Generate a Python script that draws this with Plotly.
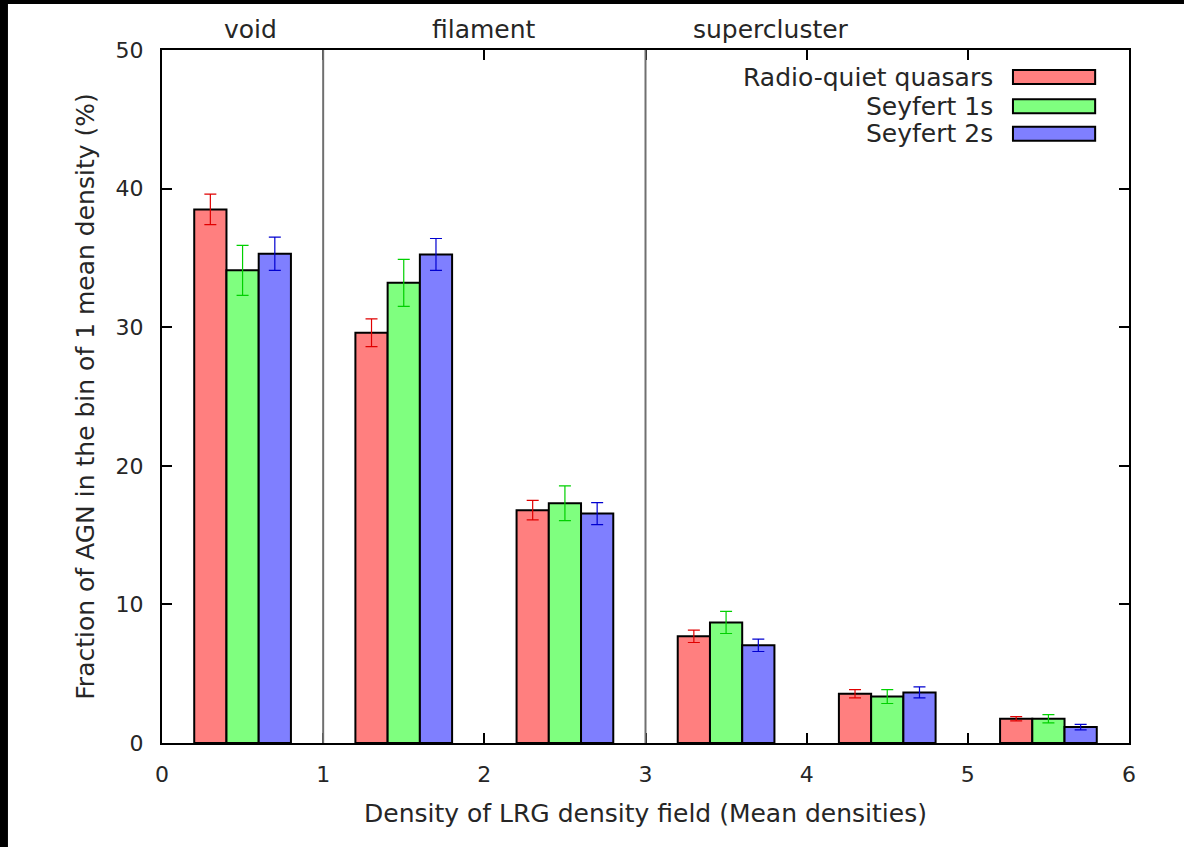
import plotly.graph_objects as go

# ---- data ----
centers = [0.5, 1.5, 2.5, 3.5, 4.5, 5.5]
series_names = ["Radio-quiet quasars", "Seyfert 1s", "Seyfert 2s"]
rq = [38.5, 29.6, 16.8, 7.7, 3.55, 1.75]
rq_err = [1.1, 1.0, 0.7, 0.45, 0.3, 0.15]
sy1 = [34.1, 33.2, 17.3, 8.7, 3.35, 1.75]
sy1_err = [1.8, 1.7, 1.25, 0.8, 0.5, 0.3]
sy2 = [35.3, 35.25, 16.55, 7.05, 3.65, 1.15]
sy2_err = [1.2, 1.15, 0.8, 0.45, 0.4, 0.2]
region_bounds = [1, 3]
region_labels = ["void", "filament", "supercluster"]
region_label_x = [0.55, 2.0, 3.78]
x_ticks = [0, 1, 2, 3, 4, 5, 6]
y_ticks = [0, 10, 20, 30, 40, 50]

fills = ["#ff7f7f", "#7fff7f", "#7f7fff"]
errcols = ["#e00000", "#00d000", "#0000d0"]
vals = [rq, sy1, sy2]
errs = [rq_err, sy1_err, sy2_err]

FONT = "DejaVu Sans, Liberation Sans, sans-serif"
TXT = "#262626"
HSIZE = 25

fig = go.Figure()
for name, v, e, fc, ec in zip(series_names, vals, errs, fills, errcols):
    fig.add_trace(go.Bar(
        x=centers, y=v, name=name, width=0.2,
        marker=dict(color=fc, line=dict(color="black", width=2)),
        error_y=dict(type="data", array=e, visible=True, color=ec,
                     thickness=1.2, width=6),
        showlegend=False,
    ))

# region separator lines
for b in region_bounds:
    fig.add_shape(type="line", xref="x", yref="paper", x0=b, x1=b, y0=0, y1=1,
                  line=dict(color="#707070", width=2), layer="above")

# region labels
for lab, lx in zip(region_labels, region_label_x):
    fig.add_annotation(x=lx, xref="x", y=1.03, yref="paper", text=lab,
                       showarrow=False, font=dict(family=FONT, size=HSIZE, color=TXT),
                       xanchor="center", yanchor="middle")

# custom legend (text left of swatch, gnuplot style)
leg_y = [0.961, 0.919, 0.879]
for name, fc, ly in zip(series_names, fills, leg_y):
    fig.add_annotation(x=0.8614, xref="paper", y=ly, yref="paper", text=name,
                       showarrow=False, font=dict(family=FONT, size=HSIZE, color=TXT),
                       xanchor="right", yanchor="middle")
    fig.add_shape(type="rect", xref="paper", yref="paper",
                  x0=0.880, x1=0.965, y0=ly - 0.0101, y1=ly + 0.0101,
                  fillcolor=fc, line=dict(color="black", width=2))

# black borders of the cropped image
fig.add_shape(type="rect", xref="paper", yref="paper", x0=-0.2, x1=-0.1593,
              y0=-0.3, y1=1.2, fillcolor="black", line=dict(width=0))
fig.add_shape(type="rect", xref="paper", yref="paper", x0=-0.2, x1=1.2,
              y0=1.0664, y1=1.2, fillcolor="black", line=dict(width=0))

axis_common = dict(showline=True, linecolor="black", linewidth=2, mirror="allticks",
                   ticks="inside", ticklen=10, tickwidth=1.5, tickcolor="black",
                   showgrid=False, zeroline=False,
                   tickfont=dict(family=FONT, size=22, color=TXT))

fig.update_layout(
    width=1184, height=847,
    margin=dict(l=162, r=55, t=50, b=104, autoexpand=False),
    paper_bgcolor="white", plot_bgcolor="white",
    barmode="group", bargap=0.4, bargroupgap=0,
    xaxis=dict(range=[0, 6], tickvals=x_ticks, ticklabelstandoff=11,
               title=dict(text="Density of LRG density field (Mean densities)",
                          font=dict(family=FONT, size=HSIZE, color=TXT), standoff=18),
               **axis_common),
    yaxis=dict(range=[0, 50], tickvals=y_ticks, ticklabelstandoff=12,
               title=dict(text="Fraction of AGN in the bin of 1 mean density (%)",
                          font=dict(family=FONT, size=25, color=TXT), standoff=14),
               **axis_common),
)

fig.write_html("out.html")
